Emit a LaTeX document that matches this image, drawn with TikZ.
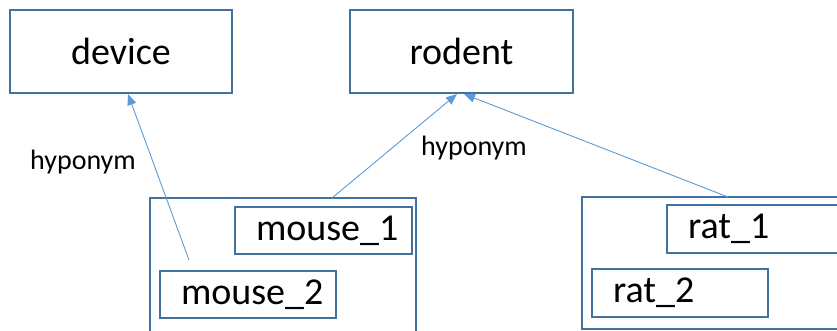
\documentclass[tikz,border=0pt]{standalone}
\usepackage{fontspec}
\setmainfont{Carlito}
\usetikzlibrary{arrows.meta}
\definecolor{boxblue}{HTML}{41719C}
\definecolor{lineblue}{HTML}{5B9BD5}
\begin{document}
\begin{tikzpicture}[x=1pt,y=-1pt,
  box/.style={draw=boxblue, line width=2.2pt, rectangle, inner sep=0pt, font=\fontsize{38}{40}\selectfont},
  item/.style={box, inner xsep=21pt, align=left, minimum height=47pt},
  grp/.style={draw=boxblue, line width=2.2pt, rectangle, inner sep=0pt},
  rel/.style={draw=lineblue, line width=0.9pt, -{Triangle[length=11pt,width=9pt]}},
  lab/.style={font=\fontsize{28}{30}\selectfont, inner sep=0pt}]
\useasboundingbox (0,0) rectangle (837,331);
\clip (0,0) rectangle (837,331);
\node[box, minimum width=222pt, minimum height=83pt] (device) at (121,51.5) {device};
\node[box, minimum width=223pt, minimum height=83pt] (rodent) at (461.5,51.5) {rodent};
\node[grp, minimum width=266pt, minimum height=142pt] (mgroup) at (283,269) {};
\node[item, text width=135pt] (mouse1) at (323.5,230.5) {mouse\_1};
\node[item, text width=134pt] (mouse2) at (248,294.5) {mouse\_2};
\node[grp, minimum width=278pt, minimum height=132pt] (rgroup) at (721,263) {};
\node[item, text width=141pt, minimum height=48pt] (rat1) at (758.5,229) {rat\_1};
\node[item, text width=134pt, minimum height=48pt] (rat2) at (680,293) {rat\_2};
\coordinate (m2start) at (189,260);
\coordinate (m1start) at (332,198);
\coordinate (r1start) at (728,197);
\coordinate (devtip) at (128,94);
\coordinate (rodtipa) at (457,94);
\coordinate (rodtipb) at (464,94);
\draw[rel] (m2start) -- (devtip);
\draw[rel] (m1start) -- (rodtipa);
\draw[rel] (r1start) -- (rodtipb);
\node[lab] (hyp1) at (83,162) {hyponym};
\node[lab] (hyp2) at (474,148) {hyponym};
\end{tikzpicture}
\end{document}
